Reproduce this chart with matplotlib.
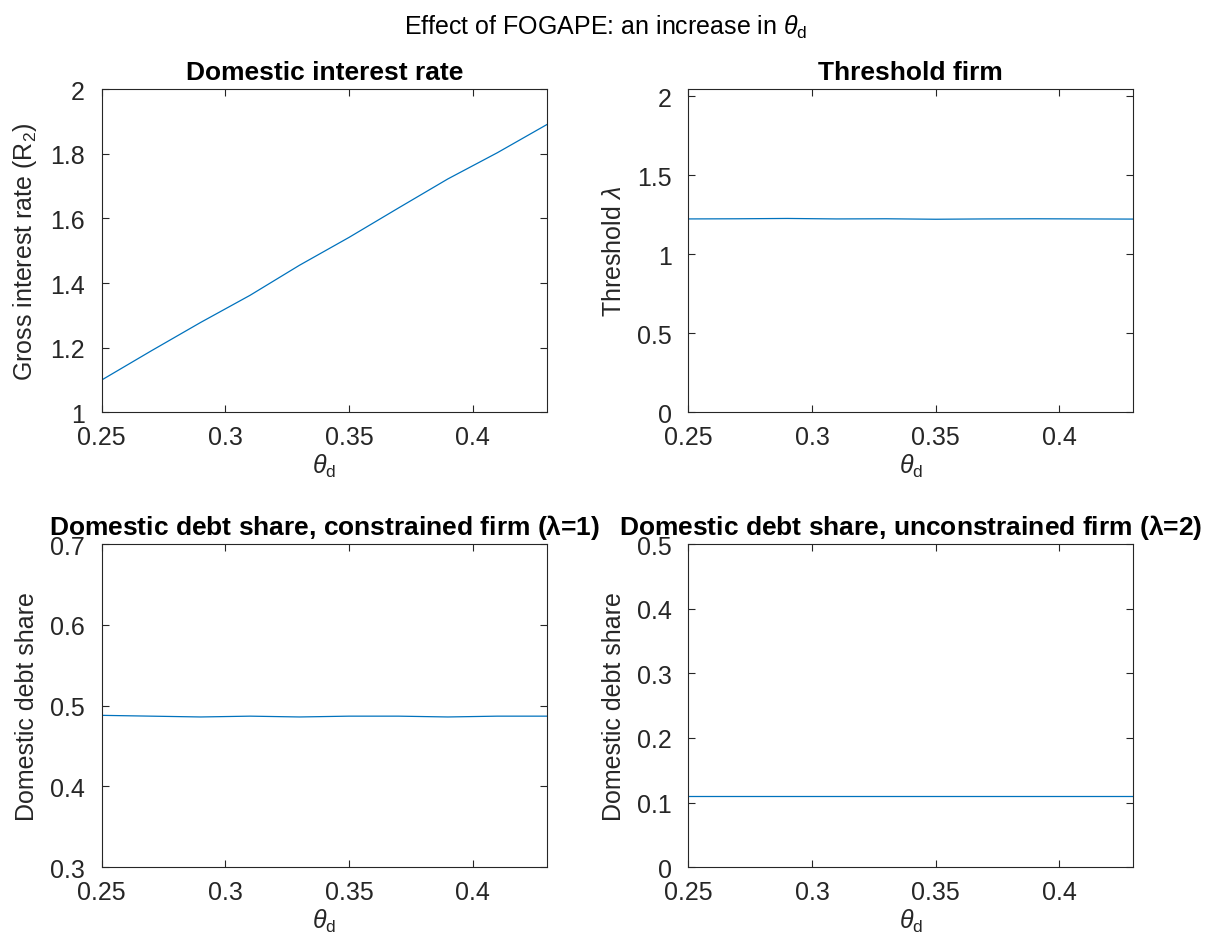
import numpy as np
import matplotlib
matplotlib.use("Agg")
import matplotlib.pyplot as plt

plt.rcParams["font.family"] = ["Liberation Sans", "DejaVu Sans"]
plt.rcParams["mathtext.fontset"] = "custom"
plt.rcParams["mathtext.rm"] = "Liberation Sans"
plt.rcParams["mathtext.it"] = "Liberation Sans:italic"
plt.rcParams["mathtext.bf"] = "Liberation Sans:bold"

# data
theta_d = [0.25, 0.27, 0.29, 0.31, 0.33, 0.35, 0.37, 0.39, 0.41, 0.43]
gross_rate = [1.100, 1.190, 1.278, 1.362, 1.455, 1.541, 1.632, 1.722, 1.803, 1.890]
threshold = [1.224, 1.225, 1.227, 1.224, 1.225, 1.222, 1.224, 1.225, 1.224, 1.223]
share_constrained = [0.488, 0.487, 0.486, 0.487, 0.486, 0.487, 0.487, 0.486, 0.487, 0.487]
share_unconstrained = [0.111, 0.111, 0.111, 0.111, 0.111, 0.111, 0.111, 0.111, 0.111, 0.111]

line_color = "#0072BD"
axis_color = "#262626"
fs = 18
title_fs = 19

fig = plt.figure(figsize=(12.11, 9.53), dpi=100)

w, h = 0.3675, 0.3392
panels = [
    # (left, bottom, y, title, ylabel, ylim, yticks, yticklabels)
    (0.0840, 0.5663, gross_rate, "Domestic interest rate",
     r"Gross interest rate (R$_{\mathrm{2}}$)", (1, 2),
     [1, 1.2, 1.4, 1.6, 1.8, 2], ["1", "1.2", "1.4", "1.6", "1.8", "2"]),
    (0.5684, 0.5663, threshold, "Threshold firm",
     r"Threshold $\lambda$", (0, 2.046),
     [0, 0.5, 1, 1.5, 2], ["0", "0.5", "1", "1.5", "2"]),
    (0.0840, 0.0889, share_constrained,
     r"Domestic debt share, constrained firm ($\mathbf{\lambda}$=1)",
     "Domestic debt share", (0.3, 0.7),
     [0.3, 0.4, 0.5, 0.6, 0.7], ["0.3", "0.4", "0.5", "0.6", "0.7"]),
    (0.5684, 0.0889, share_unconstrained,
     r"Domestic debt share, unconstrained firm ($\mathbf{\lambda}$=2)",
     "Domestic debt share", (0, 0.5),
     [0, 0.1, 0.2, 0.3, 0.4, 0.5], ["0", "0.1", "0.2", "0.3", "0.4", "0.5"]),
]

for left, bottom, yvals, title, ylabel, ylim, yticks, yticklabels in panels:
    ax = fig.add_axes([left, bottom, w, h])
    ax.plot(theta_d, yvals, color=line_color, lw=0.9)
    ax.set_xlim(0.25, 0.43)
    ax.set_ylim(*ylim)
    ax.set_xticks([0.25, 0.3, 0.35, 0.4])
    ax.set_xticklabels(["0.25", "0.3", "0.35", "0.4"])
    ax.set_yticks(yticks)
    ax.set_yticklabels(yticklabels)
    ax.tick_params(direction="in", length=5, width=0.8, top=True, right=True,
                   labelsize=fs, colors=axis_color)
    ax.tick_params(axis="x", pad=9)
    ax.tick_params(axis="y", pad=12)
    for s in ax.spines.values():
        s.set_color(axis_color)
        s.set_linewidth(0.8)
    ax.set_title(title, fontsize=title_fs, fontweight="bold", pad=7)
    ax.set_ylabel(ylabel, fontsize=fs, color=axis_color, labelpad=8)
    ax.set_xlabel(r"$\theta_{\mathrm{d}}$", fontsize=fs, color=axis_color, labelpad=2)

fig.suptitle(r"Effect of FOGAPE: an increase in $\theta_{\mathrm{d}}$",
             fontsize=fs, y=0.985)

fig.savefig("out.png", dpi=100)
